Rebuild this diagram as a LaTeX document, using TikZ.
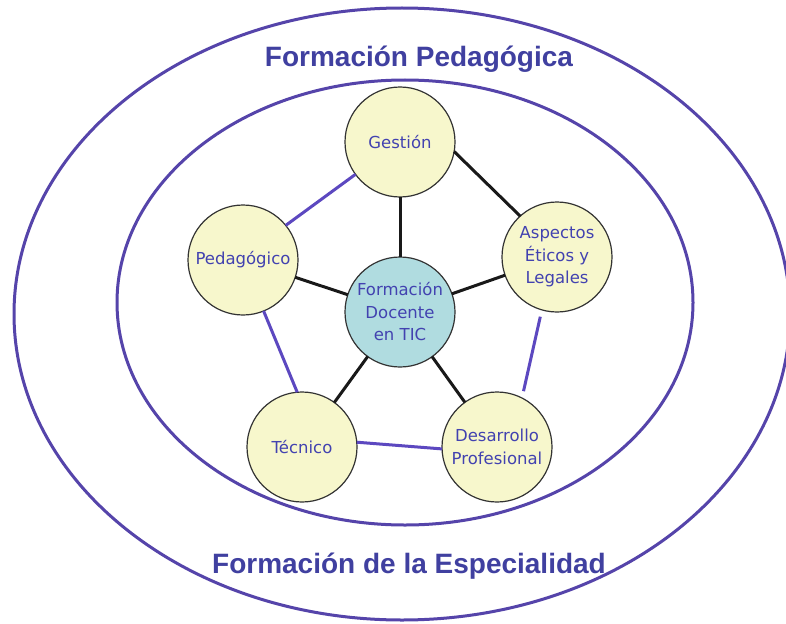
\documentclass[tikz,border=0pt]{standalone}
\usepackage{fontspec}
\setmainfont{DejaVu Sans}
\newfontfamily\titlefont{Liberation Sans}
\usetikzlibrary{calc}
\definecolor{ellc}{RGB}{85,68,170}
\definecolor{titlec}{RGB}{64,64,160}
\definecolor{textc}{RGB}{66,66,176}
\definecolor{pentc}{RGB}{92,72,192}
\definecolor{yfill}{RGB}{247,247,204}
\definecolor{bfill}{RGB}{176,220,224}
\tikzset{
  ring/.style={draw=ellc, line width=3pt},
  bubble/.style={circle, draw=black!80, line width=1.2pt, fill=yfill, minimum size=110pt, inner sep=0pt, outer sep=0pt,
    text=textc, align=center, font=\fontsize{16.5}{22.5}\selectfont},
  hub/.style={bubble, fill=bfill},
  spoke/.style={draw=black!90, line width=3pt},
  pent/.style={draw=pentc, line width=3pt},
  titletext/.style={text=titlec, font=\titlefont\bfseries\fontsize{28}{32}\selectfont, anchor=base, inner sep=0pt}
}
\begin{document}
\begin{tikzpicture}[x=1pt,y=-1pt]
\useasboundingbox (0,0) rectangle (786,623);
\fill[white] (0,0) rectangle (786,623);
\draw[ring] (402,314) ellipse [x radius=388pt, y radius=306pt];
\draw[ring] (405,302.5) ellipse [x radius=288pt, y radius=222.5pt];
\node[titletext] (t1) at (419,67) {Formación Pedagógica};
\node[titletext] (t2) at (409,573) {Formación de la Especialidad};
\node[bubble] (ges) at (400,142) {Gestión};
\node[bubble] (ped) at (243,260) {Pedagógico};
\node[bubble] (asp) at (557,257) {Aspectos\\Éticos y\\Legales};
\node[bubble] (tec) at (302,447) {Técnico};
\node[bubble] (des) at (497,447) {Desarrollo\\Profesional};
\node[hub] (fd) at (400,312) {Formación\\Docente\\en TIC};
\draw[spoke] (fd) -- (ges);
\draw[spoke] (fd) -- (ped);
\draw[spoke] (fd) -- (asp);
\draw[spoke] (fd) -- (tec);
\draw[spoke] (fd) -- (des);
\draw[spoke] (ges.-10) -- (asp.132);
\draw[pent] (ges.216) -- (ped.39);
\draw[pent] (ped.-68) -- (tec.95);
\draw[pent] (tec.5) -- (des.182);
\draw[pent, shorten <=7pt, shorten >=7pt] (des.63) -- (asp.-106);
\end{tikzpicture}
\end{document}
